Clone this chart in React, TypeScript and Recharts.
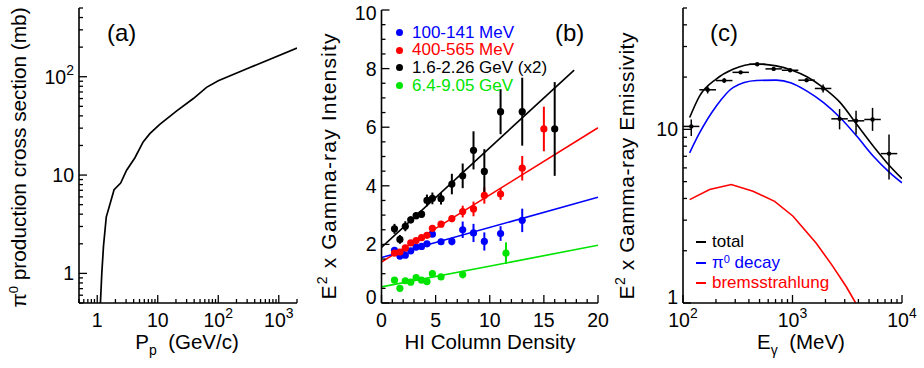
import React from 'react';
import { ComposedChart, Line, Scatter, XAxis, YAxis, ErrorBar, Legend } from 'recharts';

const FONT = '"Liberation Sans", Arial, Helvetica, sans-serif';
const BLACK = '#000000';
const BLUE = '#0000ff';
const RED = '#ff0000';
const GREEN = '#00e400';

// ---------- Panel (a): pi0 production cross section ----------
const ppMomentum = [1.13, 1.19, 1.27, 1.41, 1.9, 2.44, 3.06, 4.2, 5.74, 7.4, 10.8, 20.6, 38.8, 64, 100, 333, 2000];
const pi0CrossSection = [0.5, 1.0, 1.9, 3.74, 7.1, 8.3, 11.2, 15.0, 21.7, 26.4, 32.8, 45, 60, 78, 91, 124, 196];
const aXDomain: [number, number] = [0.5, 2000];
const aYDomain: [number, number] = [0.5, 500];
const aXMajor = [1, 10, 100, 1000];
const aYMajor = [1, 10, 100];

// ---------- Panel (b): intensity vs HI column density ----------
const blueX = [1.2, 1.7, 2.2, 2.7, 3.2, 3.7, 4.2, 4.7, 5.5, 6.5, 7.5, 8.5, 9.5, 11, 13];
const blueY = [1.80, 1.60, 1.63, 1.78, 1.91, 1.93, 2.02, 2.35, 2.09, 2.10, 2.50, 2.39, 2.10, 2.37, 2.82];
const blueErr = [0.07, 0.07, 0.07, 0.07, 0.07, 0.07, 0.08, 0.1, 0.1, 0.13, 0.28, 0.31, 0.31, 0.25, 0.4];
const redX = [1.2, 1.7, 2.2, 2.7, 3.2, 3.7, 4.2, 4.7, 5.5, 6.5, 7.5, 8.5, 9.5, 11, 13, 15];
const redY = [1.70, 1.74, 1.88, 2.05, 2.13, 2.23, 2.31, 2.55, 2.69, 2.88, 3.12, 3.21, 3.67, 3.72, 4.60, 5.94];
const redErr = [0.07, 0.07, 0.07, 0.07, 0.07, 0.08, 0.08, 0.1, 0.1, 0.12, 0.2, 0.25, 0.28, 0.2, 0.42, 0.76];
const blackX = [1.2, 1.7, 2.2, 2.7, 3.2, 3.7, 4.2, 4.7, 5.5, 6.5, 7.5, 8.5, 9.5, 11, 13, 16];
const blackY = [2.53, 2.17, 2.62, 2.84, 2.98, 3.03, 3.50, 3.57, 3.56, 4.06, 4.34, 5.21, 4.49, 6.53, 6.53, 5.94];
const blackErr = [0.17, 0.15, 0.17, 0.12, 0.12, 0.13, 0.2, 0.2, 0.2, 0.35, 0.42, 0.65, 0.76, 0.77, 1.16, 1.6];
const greenX = [1.2, 1.7, 2.2, 2.7, 3.2, 3.7, 4.2, 4.7, 5.5, 7.5, 11.5];
const greenY = [0.78, 0.50, 0.76, 0.71, 0.87, 0.78, 0.73, 1.00, 0.89, 0.97, 1.70];
const greenErr = [0.08, 0.08, 0.08, 0.08, 0.08, 0.08, 0.08, 0.12, 0.1, 0.13, 0.37];
const fitX = [0, 20];
const blackFitX = [0, 17.8];
const blackFitY = [1.90, 7.95];
const redFitY = [1.40, 5.98];
const blueFitY = [1.55, 3.61];
const greenFitY = [0.55, 1.97];
const bXMajor = [0, 5, 10, 15, 20];
const bXMinor = [1, 2, 3, 4, 6, 7, 8, 9, 11, 12, 13, 14, 16, 17, 18, 19];
const bYMajor = [0, 2, 4, 6, 8, 10];
const bYMinor = [0.5, 1, 1.5, 2.5, 3, 3.5, 4.5, 5, 5.5, 6.5, 7, 7.5, 8.5, 9, 9.5];
const bLegendNames = ['100-141 MeV', '400-565 MeV', '1.6-2.26 GeV (x2)', '6.4-9.05 GeV'];
const bLegendColors = [BLUE, RED, BLACK, GREEN];

// ---------- Panel (c): emissivity spectrum ----------
const binLow = [100, 141, 200, 283, 400, 566, 800, 1131, 1600, 2263, 3200, 4525, 6400];
const binHigh = [141, 200, 283, 400, 566, 800, 1131, 1600, 2263, 3200, 4525, 6400, 9051];
const binCenter = [119, 168, 238, 336, 476, 673, 951, 1345, 1903, 2691, 3805, 5382, 7611];
const emissivity = [10.4, 16.9, 19.1, 21.3, 23.7, 22.3, 21.9, 19.2, 17.2, 11.5, 11.2, 11.4, 7.25];
const emisErrUp = [1.0, 0.8, 0.6, 0.4, 0.3, 0.4, 0.4, 0.5, 0.9, 1.6, 1.6, 1.9, 2.1];
const emisErrDown = [1.25, 0.8, 0.6, 0.4, 0.3, 0.4, 0.4, 0.5, 0.9, 1.5, 1.85, 1.6, 2.1];
const modelE = [115, 142, 201, 286, 467, 711, 975, 1355, 1910, 2716, 3855, 5475, 7770, 10000];
const totalModel = [11.7, 15.6, 19.5, 22.2, 23.8, 23.2, 22.0, 20.1, 17.4, 14.3, 10.7, 8.0, 6.13, 5.2];
const pi0Model = [7.33, 9.57, 13.6, 17.4, 19.1, 19.2, 18.5, 16.6, 14.3, 11.7, 9.15, 7.0, 5.62, 4.92];
const bremsE = [115, 175, 276, 436, 687, 1012, 1648, 2344, 3100, 3774];
const bremsModel = [3.94, 4.5, 4.81, 4.4, 3.85, 3.16, 2.21, 1.62, 1.24, 1.0];
const cXDomain: [number, number] = [100, 10000];
const cYDomain: [number, number] = [1, 50];
const cXMajor = [100, 1000, 10000];
const cYMajor = [1, 10];
const cLegendNames = ['total', 'π0 decay', 'bremsstrahlung'];
const cLegendColors = [BLACK, BLUE, RED];

// ---------- helpers ----------
const near = (a: number, b: number) => Math.abs(a - b) <= 1e-6 * Math.max(1, Math.abs(b));
const logMinors = (domain: [number, number], majors: number[]) => {
  const out: number[] = [];
  const lo = Math.floor(Math.log10(domain[0]));
  const hi = Math.ceil(Math.log10(domain[1]));
  for (let e = lo; e <= hi; e++) {
    for (let m = 1; m <= 9; m++) {
      const v = parseFloat((m * Math.pow(10, e)).toPrecision(6));
      if (v >= domain[0] * 0.999 && v <= domain[1] * 1.001 && !majors.some((t) => near(t, v))) out.push(v);
    }
  }
  return out;
};
const zip = (xs: number[], ys: number[]) => xs.map((x, i) => ({ x, y: ys[i] }));

const TICK_FONT = 19.5;

const logLabel = (v: number): React.ReactNode => {
  if (near(v, 1)) return '1';
  if (near(v, 10)) return '10';
  const e = Math.round(Math.log10(v));
  return [
    <tspan key="b">10</tspan>,
    <tspan key="e" dy={-9} fontSize={14}>{String(e)}</tspan>,
  ];
};
const linLabel = (v: number): React.ReactNode => String(v);

type Side = 'bottom' | 'top' | 'left' | 'right';
const makeTick = (
  side: Side,
  majors: number[],
  label?: (v: number) => React.ReactNode,
  domain?: [number, number],
  edgeShift = false
) => (props: any) => {
  const { x, y, payload } = props;
  const v = payload.value;
  const isMajor = majors.some((m) => near(m, v));
  const len = isMajor ? 8 : 4;
  let x2 = x, y2 = y;
  if (side === 'bottom') y2 = y - len;
  if (side === 'top') y2 = y + len;
  if (side === 'left') x2 = x + len;
  if (side === 'right') x2 = x - len;
  let text: React.ReactNode = null;
  if (isMajor && label) {
    if (side === 'bottom') {
      text = (
        <text x={x} y={y + 23.5} textAnchor="middle" fontSize={TICK_FONT} fontFamily={FONT} fill="#000">
          {label(v)}
        </text>
      );
    } else if (side === 'left') {
      let shift = 0;
      if (edgeShift && domain) {
        if (near(v, domain[0])) shift = -6;
        if (near(v, domain[1])) shift = 3;
      }
      text = (
        <text x={x - 5} y={y + 7 + shift} textAnchor="end" fontSize={TICK_FONT} fontFamily={FONT} fill="#000">
          {label(v)}
        </text>
      );
    }
  }
  return (
    <g>
      <line x1={x} y1={y} x2={x2} y2={y2} stroke="#000" strokeWidth={1.3} />
      {text}
    </g>
  );
};

const axisLine = { stroke: '#000', strokeWidth: 1.6 };

const frameAxes = (
  xDomain: [number, number],
  yDomain: [number, number],
  xTicks: number[],
  yTicks: number[],
  xMajor: number[],
  yMajor: number[],
  xScale: 'log' | 'linear',
  yScale: 'log' | 'linear',
  xLabel: (v: number) => React.ReactNode,
  yLabel: (v: number) => React.ReactNode,
  yAxisWidth: number,
  edgeShift: boolean
) => [
  <XAxis
    key="xb"
    xAxisId="b"
    dataKey="x"
    type="number"
    scale={xScale}
    domain={xDomain}
    allowDataOverflow
    ticks={xTicks}
    interval={0}
    tickSize={0}
    tickMargin={0}
    tickLine={false}
    axisLine={axisLine}
    height={65}
    tick={makeTick('bottom', xMajor, xLabel)}
  />,
  <XAxis
    key="xt"
    xAxisId="t"
    orientation="top"
    dataKey="x"
    type="number"
    scale={xScale}
    domain={xDomain}
    allowDataOverflow
    ticks={xTicks}
    interval={0}
    tickSize={0}
    tickMargin={0}
    tickLine={false}
    axisLine={axisLine}
    height={0}
    tick={makeTick('top', xMajor)}
  />,
  <YAxis
    key="yl"
    yAxisId="l"
    dataKey="y"
    type="number"
    scale={yScale}
    domain={yDomain}
    allowDataOverflow
    ticks={yTicks}
    interval={0}
    tickSize={0}
    tickMargin={0}
    tickLine={false}
    axisLine={axisLine}
    width={yAxisWidth}
    tick={makeTick('left', yMajor, yLabel, yDomain, edgeShift)}
  />,
  <YAxis
    key="yr"
    yAxisId="r"
    orientation="right"
    dataKey="y"
    type="number"
    scale={yScale}
    domain={yDomain}
    allowDataOverflow
    ticks={yTicks}
    interval={0}
    tickSize={0}
    tickMargin={0}
    tickLine={false}
    axisLine={axisLine}
    width={0}
    tick={makeTick('right', yMajor)}
  />,
];

const dot = (color: string, r: number) => (p: any) => <circle cx={p.cx} cy={p.cy} r={r} fill={color} />;

const BLegend = () => (
  <div style={{ fontFamily: FONT, fontSize: 17, lineHeight: '17.7px' }}>
    {bLegendNames.map((n, i) => (
      <div key={n} style={{ display: 'flex', alignItems: 'center', color: bLegendColors[i], whiteSpace: 'nowrap' }}>
        <span
          style={{
            display: 'inline-block',
            width: 7,
            height: 7,
            borderRadius: '50%',
            background: bLegendColors[i],
            marginRight: 9.5,
          }}
        />
        {n}
      </div>
    ))}
  </div>
);

const CLegend = () => (
  <div style={{ fontFamily: FONT, fontSize: 17, lineHeight: '20.5px' }}>
    {cLegendNames.map((n, i) => (
      <div key={n} style={{ display: 'flex', alignItems: 'center', color: cLegendColors[i], whiteSpace: 'nowrap' }}>
        <span
          style={{ display: 'inline-block', width: 10, height: 2, background: cLegendColors[i], marginRight: 6 }}
        />
        {n === 'π0 decay' ? (
          <span>
            π<sup style={{ fontSize: 11, verticalAlign: 'top', lineHeight: '12px' }}>0</sup> decay
          </span>
        ) : (
          n
        )}
      </div>
    ))}
  </div>
);

export default function App() {
  const aLine = zip(ppMomentum, pi0CrossSection);
  const aXTicks = [...aXMajor, ...logMinors(aXDomain, aXMajor)];
  const aYTicks = [...aYMajor, ...logMinors(aYDomain, aYMajor)];

  const bXTicks = [...bXMajor, ...bXMinor];
  const bYTicks = [...bYMajor, ...bYMinor];
  const mk = (xs: number[], ys: number[], es: number[]) => xs.map((x, i) => ({ x, y: ys[i], e: es[i] }));
  const blueData = mk(blueX, blueY, blueErr);
  const redData = mk(redX, redY, redErr);
  const blackData = mk(blackX, blackY, blackErr);
  const greenData = mk(greenX, greenY, greenErr);

  const cXTicks = [...cXMajor, ...logMinors(cXDomain, cXMajor)];
  const cYTicks = [...cYMajor, ...logMinors(cYDomain, cYMajor)];
  const cPoints = binCenter.map((x, i) => ({
    x,
    y: emissivity[i],
    ex: [x - binLow[i], binHigh[i] - x],
    ey: [emisErrDown[i], emisErrUp[i]],
  }));

  const txt = { fontFamily: FONT, fill: '#000' } as const;

  return (
    <div style={{ position: 'absolute', left: 0, top: 0, width: 924, height: 368, background: '#fff' }}>
      {/* Panel (a) */}
      <div style={{ position: 'absolute', left: 0, top: 0 }}>
        <ComposedChart width={310} height={368} margin={{ top: 8, right: 13, bottom: 0, left: 0 }}>
          {frameAxes(aXDomain, aYDomain, aXTicks, aYTicks, aXMajor, aYMajor, 'log', 'log', logLabel, logLabel, 79, false)}
          <Line
            data={aLine}
            xAxisId="b"
            yAxisId="l"
            dataKey="y"
            type="linear"
            stroke={BLACK}
            strokeWidth={1.7}
            dot={false}
            isAnimationActive={false}
          />
        </ComposedChart>
      </div>

      {/* Panel (b) */}
      <div style={{ position: 'absolute', left: 300, top: 0 }}>
        <ComposedChart width={310} height={368} margin={{ top: 10, right: 12, bottom: 0, left: 0 }}>
          {frameAxes([0, 20], [0, 10], bXTicks, bYTicks, bXMajor, bYMajor, 'linear', 'linear', linLabel, linLabel, 81.5, true)}
          <Line data={zip(blackFitX, blackFitY)} xAxisId="b" yAxisId="l" dataKey="y" stroke={BLACK} strokeWidth={1.6} dot={false} isAnimationActive={false} />
          <Line data={zip(fitX, redFitY)} xAxisId="b" yAxisId="l" dataKey="y" stroke={RED} strokeWidth={1.6} dot={false} isAnimationActive={false} />
          <Line data={zip(fitX, blueFitY)} xAxisId="b" yAxisId="l" dataKey="y" stroke={BLUE} strokeWidth={1.6} dot={false} isAnimationActive={false} />
          <Line data={zip(fitX, greenFitY)} xAxisId="b" yAxisId="l" dataKey="y" stroke={GREEN} strokeWidth={1.6} dot={false} isAnimationActive={false} />
          <Scatter name={bLegendNames[0]} data={blueData} xAxisId="b" yAxisId="l" dataKey="y" fill={BLUE} shape={dot(BLUE, 3.6)} isAnimationActive={false}>
            <ErrorBar dataKey="e" direction="y" width={0} stroke={BLUE} strokeWidth={2} />
          </Scatter>
          <Scatter name={bLegendNames[1]} data={redData} xAxisId="b" yAxisId="l" dataKey="y" fill={RED} shape={dot(RED, 3.6)} isAnimationActive={false}>
            <ErrorBar dataKey="e" direction="y" width={0} stroke={RED} strokeWidth={2} />
          </Scatter>
          <Scatter name={bLegendNames[2]} data={blackData} xAxisId="b" yAxisId="l" dataKey="y" fill={BLACK} shape={dot(BLACK, 3.6)} isAnimationActive={false}>
            <ErrorBar dataKey="e" direction="y" width={0} stroke={BLACK} strokeWidth={2} />
          </Scatter>
          <Scatter name={bLegendNames[3]} data={greenData} xAxisId="b" yAxisId="l" dataKey="y" fill={GREEN} shape={dot(GREEN, 3.6)} isAnimationActive={false}>
            <ErrorBar dataKey="e" direction="y" width={0} stroke={GREEN} strokeWidth={2} />
          </Scatter>
          <Legend
            layout="vertical"
            align="center"
            verticalAlign="middle"
            content={() => <BLegend />}
            wrapperStyle={{ left: 95.5, top: 23.5, width: 'auto', height: 'auto' }}
          />
        </ComposedChart>
      </div>

      {/* Panel (c) */}
      <div style={{ position: 'absolute', left: 610, top: 0 }}>
        <ComposedChart width={314} height={368} margin={{ top: 8, right: 22, bottom: 0, left: 0 }}>
          {frameAxes(cXDomain, cYDomain, cXTicks, cYTicks, cXMajor, cYMajor, 'log', 'log', logLabel, logLabel, 73, true)}
          <Line data={zip(bremsE, bremsModel)} xAxisId="b" yAxisId="l" dataKey="y" type="linear" stroke={RED} strokeWidth={1.6} dot={false} isAnimationActive={false} />
          <Line data={zip(modelE, pi0Model)} xAxisId="b" yAxisId="l" dataKey="y" type="monotone" stroke={BLUE} strokeWidth={1.6} dot={false} isAnimationActive={false} />
          <Line data={zip(modelE, totalModel)} xAxisId="b" yAxisId="l" dataKey="y" type="monotone" stroke={BLACK} strokeWidth={1.6} dot={false} isAnimationActive={false} />
          <Scatter data={cPoints} xAxisId="b" yAxisId="l" dataKey="y" fill={BLACK} shape={dot(BLACK, 2.2)} isAnimationActive={false}>
            <ErrorBar dataKey="ey" direction="y" width={0} stroke={BLACK} strokeWidth={1.5} />
            <ErrorBar dataKey="ex" direction="x" width={0} stroke={BLACK} strokeWidth={1.5} />
          </Scatter>
          <Legend
            layout="vertical"
            align="center"
            verticalAlign="middle"
            content={() => <CLegend />}
            wrapperStyle={{ left: 86, top: 232, width: 'auto', height: 'auto' }}
          />
        </ComposedChart>
      </div>

      {/* Titles and panel labels */}
      <svg width={924} height={368} style={{ position: 'absolute', left: 0, top: 0, pointerEvents: 'none' }}>
        <text x={107} y={41} fontSize={24} {...txt}>(a)</text>
        <text x={555} y={41} fontSize={24} {...txt}>(b)</text>
        <text x={710} y={41} fontSize={24} {...txt}>(c)</text>

        <text transform="translate(26,157.5) rotate(-90)" textAnchor="middle" fontSize={20.8} {...txt}>
          π<tspan dy={-8} fontSize={13}>0</tspan>
          <tspan dy={8}> production cross section (mb)</tspan>
        </text>
        <text
          transform="translate(336,166.5) rotate(-90)"
          textAnchor="middle"
          fontSize={21}
          textLength={266}
          lengthAdjust="spacing"
          {...txt}
        >
          E<tspan dy={-9} fontSize={14}>2</tspan>
          <tspan dy={9}> x Gamma-ray Intensity</tspan>
        </text>
        <text
          transform="translate(634,166) rotate(-90)"
          textAnchor="middle"
          fontSize={21}
          textLength={267}
          lengthAdjust="spacing"
          {...txt}
        >
          E<tspan dy={-9} fontSize={14}>2</tspan>
          <tspan dy={9}> x Gamma-ray Emissivity</tspan>
        </text>

        <text x={187} y={349} textAnchor="middle" fontSize={20.5} style={{ whiteSpace: 'pre' }} {...txt}>
          P<tspan dy={6} fontSize={14}>p</tspan>
          <tspan dy={-6}>{'  (GeV/c)'}</tspan>
        </text>
        <text x={490} y={349} textAnchor="middle" fontSize={20.5} {...txt}>
          HI Column Density
        </text>
        <text x={801} y={349} textAnchor="middle" fontSize={20.5} style={{ whiteSpace: 'pre' }} {...txt}>
          E<tspan dy={6} fontSize={14}>γ</tspan>
          <tspan dy={-6}>{'  (MeV)'}</tspan>
        </text>
      </svg>
    </div>
  );
}
